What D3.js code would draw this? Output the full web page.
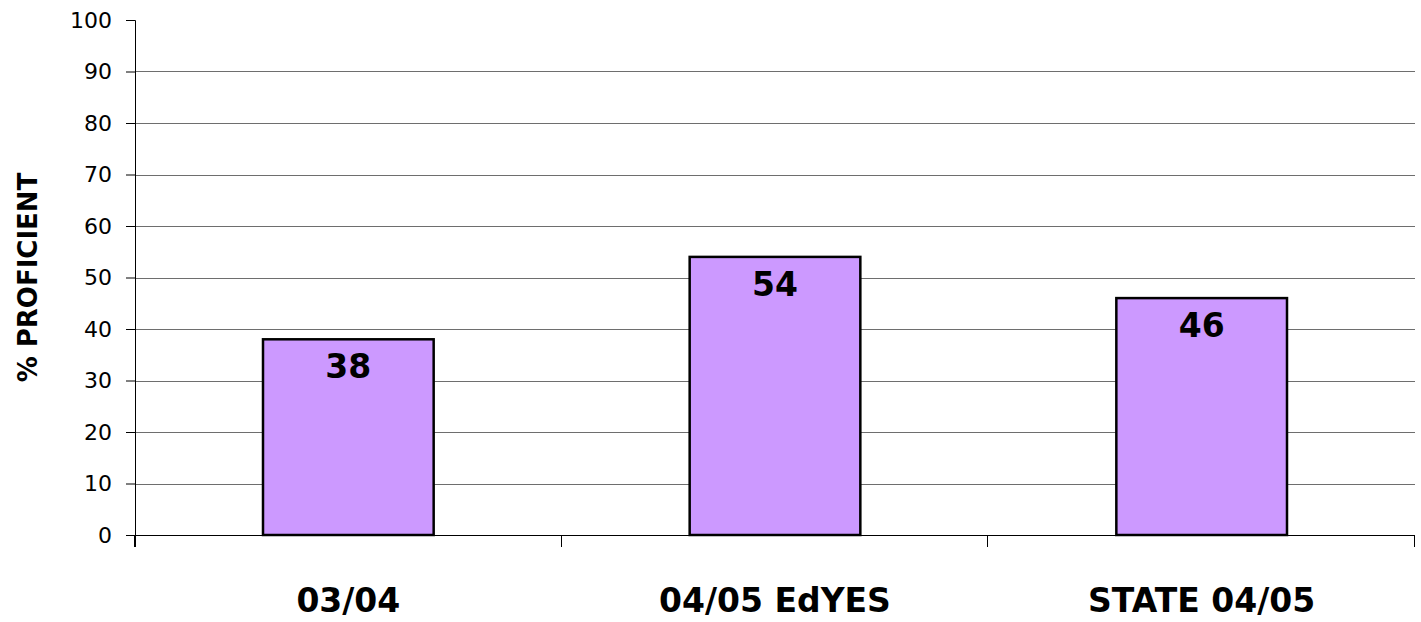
<!DOCTYPE html>
<html>
<head>
<meta charset="utf-8">
<script src="https://cdn.jsdelivr.net/npm/d3@7"></script>
<style>
  html, body { margin: 0; padding: 0; background: #fff; }
  svg { display: block; }
  text { font-family: "Comic Sans MS", "DejaVu Sans", sans-serif; fill: #000; }
</style>
</head>
<body>
<script>
// Percentage of students scoring proficient, by group
const categories = ["03/04", "04/05 EdYES", "STATE 04/05"];
const proficient = [38, 54, 46];
const yTicks = [0, 10, 20, 30, 40, 50, 60, 70, 80, 90, 100];

const width = 1421, height = 622;
const margin = { top: 20, right: 6, bottom: 87, left: 135 };
const plotW = width - margin.left - margin.right;
const plotH = height - margin.top - margin.bottom;

const svg = d3.select("body").append("svg")
  .attr("width", width)
  .attr("height", height);

const g = svg.append("g").attr("transform", `translate(${margin.left},${margin.top})`);

const x = d3.scaleBand().domain(categories).range([0, plotW]).paddingInner(0.6).paddingOuter(0.3);
const y = d3.scaleLinear().domain([0, 100]).range([plotH, 0]);

// horizontal gridlines
g.append("g").selectAll("line")
  .data(yTicks.filter(t => t > 0 && t < 100))
  .join("line")
  .attr("x1", 0).attr("x2", plotW)
  .attr("y1", d => Math.round(y(d)) + 0.5).attr("y2", d => Math.round(y(d)) + 0.5)
  .attr("stroke", "#6e6e6e").attr("stroke-width", 1);

const rows = categories.map((c, i) => ({ c, v: proficient[i] }));

// bars
g.append("g").selectAll("rect")
  .data(rows)
  .join("rect")
  .attr("x", d => x(d.c))
  .attr("y", d => y(d.v))
  .attr("width", x.bandwidth())
  .attr("height", d => plotH - y(d.v))
  .attr("fill", "#CC99FF")
  .attr("stroke", "#000")
  .attr("stroke-width", 2.5);

// value labels inside bar tops
g.append("g").selectAll("text")
  .data(rows)
  .join("text")
  .attr("x", d => x(d.c) + x.bandwidth() / 2)
  .attr("y", d => y(d.v) + 39)
  .attr("text-anchor", "middle")
  .style("font-size", "33px")
  .style("font-weight", "bold")
  .text(d => d.v);

// y axis
const yAxis = g.append("g")
  .call(d3.axisLeft(y).tickValues(yTicks).tickSize(9).tickPadding(14));
yAxis.select(".domain").attr("stroke", "#000").attr("d", `M-0.5,0.5H0.5V${plotH + 12}`);
yAxis.selectAll(".tick line").attr("stroke", "#000");
yAxis.selectAll(".tick text")
  .style("font-size", "22px")
  .style("font-family", "\"Comic Sans MS\", \"DejaVu Sans\", sans-serif");

// x axis line with ticks at category boundaries
const xAxisG = g.append("g").attr("transform", `translate(0,${plotH})`);
xAxisG.append("line")
  .attr("x1", 0).attr("x2", plotW).attr("y1", 0.5).attr("y2", 0.5)
  .attr("stroke", "#000");
const gap = (x.step() - x.bandwidth()) / 2;
const bounds = categories.map(c => x(c) - gap).concat([plotW]);
xAxisG.selectAll("line.sep")
  .data(bounds)
  .join("line")
  .attr("class", "sep")
  .attr("x1", b => Math.round(b) - 0.5)
  .attr("x2", b => Math.round(b) - 0.5)
  .attr("y1", 0).attr("y2", 12)
  .attr("stroke", "#000");

// category labels
xAxisG.selectAll("text")
  .data(categories)
  .join("text")
  .attr("x", d => x(d) + x.bandwidth() / 2)
  .attr("y", 77)
  .attr("text-anchor", "middle")
  .style("font-size", "33px")
  .style("font-weight", "bold")
  .text(d => d);

// y axis title
svg.append("text")
  .attr("transform", `translate(37,${margin.top + plotH / 2}) rotate(-90)`)
  .attr("text-anchor", "middle")
  .style("font-size", "26px")
  .style("font-weight", "bold")
  .text("% PROFICIENT");
</script>
</body>
</html>
